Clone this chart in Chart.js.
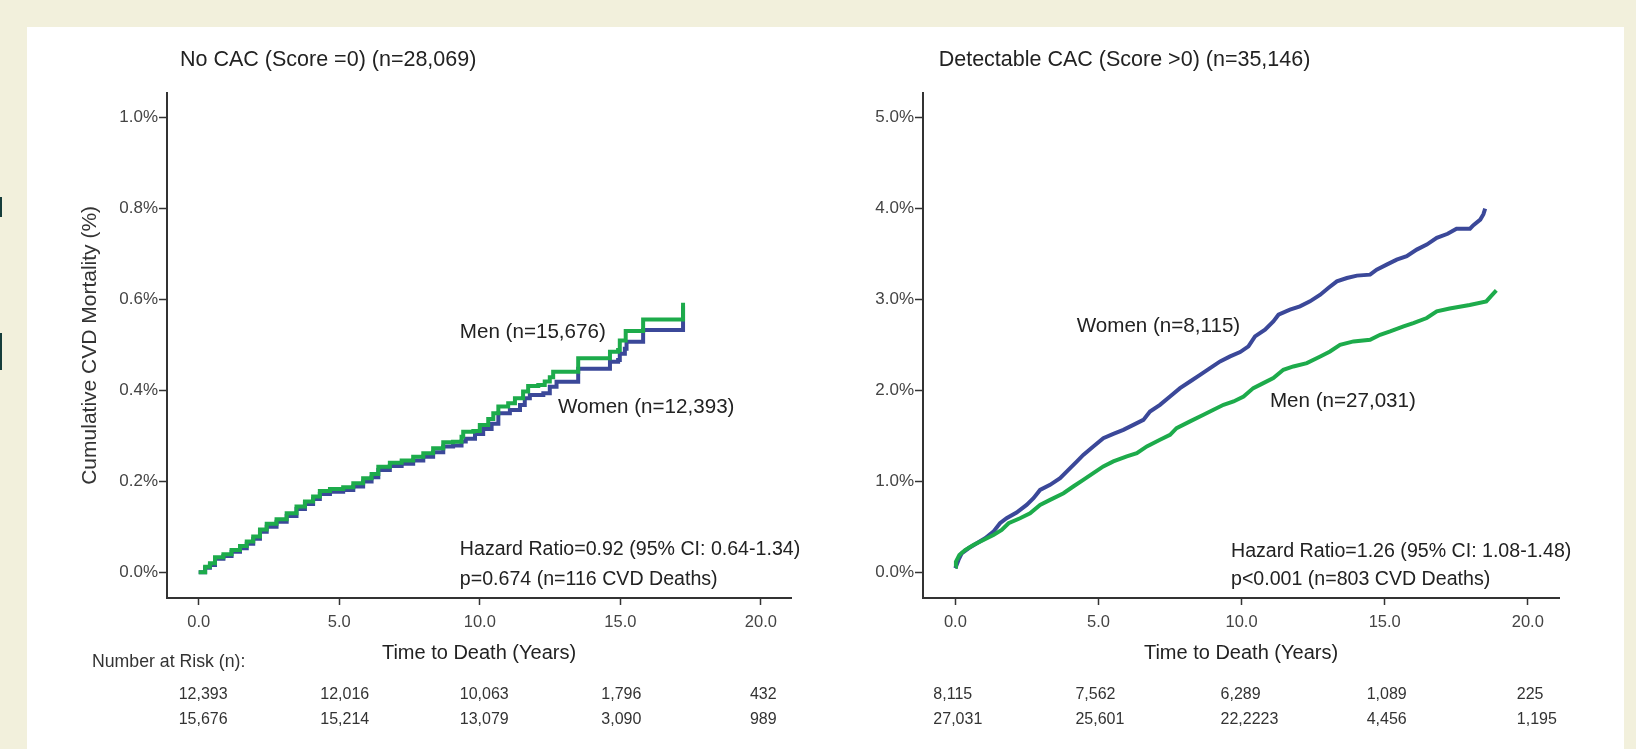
<!DOCTYPE html>
<html>
<head>
<meta charset="utf-8">
<script src="https://cdn.jsdelivr.net/npm/chart.js@4.4.1/dist/chart.umd.min.js"></script>
<style>
  html, body { margin: 0; padding: 0; }
  body { width: 1636px; height: 749px; background: #f2f0dc; position: relative; overflow: hidden; }
  #panel { position: absolute; left: 27px; top: 27px; width: 1597px; height: 722px; background: #fff; }
  canvas { position: absolute; top: 0; }
  #left-chart { left: 0; }
  #right-chart { left: 818px; }
  .edge { position: absolute; left: 0; width: 2px; background: #163d3b; }
</style>
</head>
<body>
<div id="panel"></div>
<div class="edge" style="top:197px;height:20px"></div>
<div class="edge" style="top:333px;height:37px"></div>
<canvas id="left-chart" width="818" height="749"></canvas>
<canvas id="right-chart" width="818" height="749"></canvas>
<script>
//Fonts and colours
var FONT = '"Liberation Sans", Arial, Helvetica, sans-serif';
var GREEN = '#1dab4b';
var BLUE = '#3b4899';

//Risk table time points and tick values
var riskTimes = [0, 5, 10, 15, 20];
var xTicks = [0, 5, 10, 15, 20];
var yTicksNoCac = [0, 0.2, 0.4, 0.6, 0.8, 1.0];
var yTicksCac = [0, 1, 2, 3, 4, 5];

//No CAC - Men (green)
var menNoCacT = [0, 0.23, 0.40, 0.58, 0.88, 1.17, 1.47, 1.71, 1.94, 2.18, 2.42, 2.77, 3.13, 3.48, 3.78, 4.07, 4.31, 4.67, 5.14, 5.50, 5.85, 6.15, 6.39, 6.80, 7.22, 7.63, 7.99, 8.34, 8.70, 9.05, 9.35, 9.41, 9.77, 10.0, 10.3, 10.48, 10.66, 11.01, 11.25, 11.54, 11.72, 12.08, 12.31, 12.49, 12.61, 13.50, 14.63, 14.92, 14.98, 15.19, 15.81, 17.23];
var menNoCacV = [0, 0.012, 0.020, 0.033, 0.040, 0.049, 0.058, 0.068, 0.079, 0.094, 0.107, 0.117, 0.130, 0.145, 0.156, 0.167, 0.179, 0.183, 0.187, 0.196, 0.207, 0.216, 0.232, 0.241, 0.246, 0.254, 0.262, 0.273, 0.286, 0.287, 0.298, 0.309, 0.311, 0.324, 0.337, 0.350, 0.365, 0.372, 0.383, 0.398, 0.410, 0.412, 0.420, 0.429, 0.441, 0.471, 0.485, 0.489, 0.510, 0.531, 0.556, 0.593];

//No CAC - Women (blue)
var womenNoCacT = [0, 0.23, 0.40, 0.58, 0.88, 1.17, 1.47, 1.71, 1.94, 2.18, 2.42, 2.77, 3.13, 3.48, 3.78, 4.07, 4.31, 4.67, 5.14, 5.50, 5.85, 6.15, 6.39, 6.80, 7.22, 7.63, 7.99, 8.34, 8.70, 9.05, 9.35, 9.50, 9.83, 10.12, 10.42, 10.66, 11.07, 11.43, 11.60, 11.78, 12.26, 12.49, 12.73, 13.50, 14.63, 14.92, 14.98, 15.16, 15.22, 15.81, 17.23];
var womenNoCacV = [0, 0.010, 0.016, 0.030, 0.036, 0.045, 0.053, 0.063, 0.074, 0.089, 0.100, 0.111, 0.124, 0.139, 0.150, 0.161, 0.172, 0.177, 0.181, 0.189, 0.200, 0.209, 0.225, 0.234, 0.239, 0.246, 0.254, 0.264, 0.277, 0.279, 0.288, 0.294, 0.304, 0.315, 0.327, 0.350, 0.357, 0.368, 0.383, 0.390, 0.394, 0.408, 0.419, 0.448, 0.463, 0.467, 0.481, 0.492, 0.507, 0.533, 0.585];

//Detectable CAC - Men (green)
var menCacT = [0, 0.02, 0.14, 0.34, 0.63, 0.98, 1.33, 1.62, 1.86, 2.26, 2.61, 2.96, 3.31, 3.78, 4.12, 4.47, 4.82, 5.17, 5.52, 5.99, 6.34, 6.69, 7.15, 7.50, 7.73, 8.20, 8.67, 9.02, 9.37, 9.72, 10.07, 10.41, 10.76, 11.11, 11.46, 11.81, 12.28, 12.75, 13.09, 13.44, 13.91, 14.49, 14.84, 15.19, 15.66, 16.0, 16.47, 16.82, 17.27, 17.97, 18.55, 18.7, 18.9];
var menCacV = [0.06, 0.117, 0.19, 0.245, 0.30, 0.355, 0.410, 0.465, 0.539, 0.594, 0.649, 0.741, 0.796, 0.869, 0.943, 1.016, 1.089, 1.163, 1.218, 1.273, 1.309, 1.383, 1.456, 1.511, 1.584, 1.658, 1.731, 1.786, 1.841, 1.877, 1.932, 2.024, 2.079, 2.134, 2.225, 2.262, 2.299, 2.372, 2.427, 2.500, 2.537, 2.555, 2.610, 2.647, 2.702, 2.739, 2.794, 2.867, 2.898, 2.938, 2.977, 3.03, 3.097];

//Detectable CAC - Women (blue)
var womenCacT = [0, 0.11, 0.22, 0.46, 0.75, 1.04, 1.33, 1.56, 1.79, 2.14, 2.49, 2.73, 2.96, 3.31, 3.66, 3.95, 4.24, 4.47, 4.82, 5.17, 5.52, 5.87, 6.22, 6.57, 6.80, 7.15, 7.50, 7.85, 8.20, 8.55, 8.90, 9.25, 9.60, 9.95, 10.24, 10.47, 10.82, 11.11, 11.29, 11.69, 12.04, 12.39, 12.75, 13.03, 13.33, 13.68, 14.03, 14.49, 14.72, 15.07, 15.42, 15.77, 16.12, 16.47, 16.82, 17.2, 17.51, 17.98, 18.1, 18.34, 18.45, 18.51];
var womenCacV = [0.044, 0.135, 0.209, 0.264, 0.319, 0.374, 0.447, 0.539, 0.594, 0.657, 0.741, 0.815, 0.905, 0.961, 1.034, 1.126, 1.217, 1.290, 1.382, 1.474, 1.521, 1.565, 1.620, 1.675, 1.767, 1.840, 1.932, 2.024, 2.097, 2.170, 2.244, 2.317, 2.372, 2.420, 2.482, 2.592, 2.666, 2.757, 2.831, 2.886, 2.922, 2.977, 3.050, 3.124, 3.197, 3.234, 3.260, 3.271, 3.326, 3.381, 3.436, 3.473, 3.546, 3.601, 3.675, 3.72, 3.776, 3.776, 3.815, 3.876, 3.935, 3.996];

//Number at risk (first row women, second row men)
var riskWomenNoCac = ['12,393', '12,016', '10,063', '1,796', '432'];
var riskMenNoCac = ['15,676', '15,214', '13,079', '3,090', '989'];
var riskWomenCac = ['8,115', '7,562', '6,289', '1,089', '225'];
var riskMenCac = ['27,031', '25,601', '22,2223', '4,456', '1,195'];

Chart.defaults.font.family = FONT;

function toPoints(ts, vs) {
  return ts.map(function(t, i) { return {x: t, y: vs[i]}; });
}

//Draws titles, curve labels, hazard ratio text and the risk table
var panelText = {
  id: 'panelText',
  afterDraw: function(chart, args, opts) {
    var ctx = chart.ctx;
    var xs = chart.scales.x;
    var ys = chart.scales.y;
    ctx.save();
    ctx.textBaseline = 'middle';
    ctx.textAlign = 'left';

    ctx.fillStyle = '#222';
    ctx.font = '21.5px ' + FONT;
    ctx.fillText(opts.title, opts.titleX, 60);

    opts.notes.forEach(function(n) {
      ctx.font = n.size + 'px ' + FONT;
      ctx.fillStyle = '#222';
      ctx.fillText(n.text, xs.getPixelForValue(n.t), ys.getPixelForValue(n.v));
    });

    if (opts.riskLabel) {
      ctx.font = '17.7px ' + FONT;
      ctx.fillStyle = '#333';
      ctx.fillText(opts.riskLabel, 92, 662);
    }

    ctx.font = '16px ' + FONT;
    ctx.fillStyle = '#333';
    riskTimes.forEach(function(t, i) {
      var x = xs.getPixelForValue(t) + opts.riskShift[i];
      ctx.fillText(opts.riskRows[0][i], x, 695);
      ctx.fillText(opts.riskRows[1][i], x, 720);
    });
    ctx.restore();
  }
};

function makeScales(yMin, yMax, yTicks, yWidth, yTitle, xMin, xMax) {
  return {
    x: {
      type: 'linear',
      min: xMin,
      max: xMax,
      afterBuildTicks: function(axis) {
        axis.ticks = xTicks.map(function(v) { return {value: v}; });
      },
      afterFit: function(axis) { axis.height = 151; },
      ticks: {
        autoSkip: false,
        maxRotation: 0,
        padding: 7.2,
        color: '#444',
        font: {size: 16.5},
        callback: function(value) { return Number(value).toFixed(1); }
      },
      grid: {display: true, drawOnChartArea: false, drawTicks: true, tickLength: 7, tickColor: '#333', tickWidth: 1.5},
      border: {display: true, color: '#333', width: 2},
      title: {
        display: true,
        text: 'Time to Death (Years)',
        color: '#222',
        font: {size: 20},
        padding: {top: 0, bottom: 84}
      }
    },
    y: {
      type: 'linear',
      min: yMin,
      max: yMax,
      afterBuildTicks: function(axis) {
        axis.ticks = yTicks.map(function(v) { return {value: v}; });
      },
      afterFit: function(axis) { axis.width = yWidth; },
      ticks: {
        padding: 1,
        color: '#444',
        font: {size: 17},
        callback: function(value) { return Number(value).toFixed(1) + '%'; }
      },
      grid: {display: true, drawOnChartArea: false, drawTicks: true, tickLength: 8, tickColor: '#333', tickWidth: 1.5},
      border: {display: true, color: '#333', width: 2},
      title: {
        display: !!yTitle,
        text: yTitle || '',
        color: '#333',
        font: {size: 21},
        padding: {top: 77.4, bottom: 0}
      }
    }
  };
}

function makeDatasets(menT, menV, womenT, womenV, stepped) {
  //men first so the green line is drawn on top
  return [{
    label: 'Men',
    data: toPoints(menT, menV),
    borderColor: GREEN,
    borderWidth: 4,
    pointRadius: 0,
    tension: 0,
    stepped: stepped,
    fill: false
  }, {
    label: 'Women',
    data: toPoints(womenT, womenV),
    borderColor: BLUE,
    borderWidth: 4,
    pointRadius: 0,
    tension: 0,
    stepped: stepped,
    fill: false
  }];
}

//LEFT CHART - No CAC
var leftChart = new Chart(document.getElementById('left-chart'), {
  type: 'line',
  data: {datasets: makeDatasets(menNoCacT, menNoCacV, womenNoCacT, womenNoCacV, 'before')},
  options: {
    responsive: false,
    animation: false,
    devicePixelRatio: 1,
    events: [],
    layout: {padding: {top: 92.7, right: 27, bottom: 0, left: 0}},
    scales: makeScales(-0.0565, 1.055, yTicksNoCac, 167, 'Cumulative CVD Mortality (%)', -1.127, 21.07),
    plugins: {
      legend: {display: false},
      tooltip: {enabled: false},
      panelText: {
        title: 'No CAC (Score =0) (n=28,069)',
        titleX: 180,
        notes: [
          {text: 'Men (n=15,676)', t: 9.29, v: 0.529, size: 20.6},
          {text: 'Women (n=12,393)', t: 12.78, v: 0.364, size: 20.6},
          {text: 'Hazard Ratio=0.92 (95% CI: 0.64-1.34)', t: 9.29, v: 0.049, size: 19.6},
          {text: 'p=0.674 (n=116 CVD Deaths)', t: 9.29, v: -0.017, size: 19.6}
        ],
        riskLabel: 'Number at Risk (n):',
        riskRows: [riskWomenNoCac, riskMenNoCac],
        riskShift: [-20, -19, -20, -19, -11]
      }
    }
  },
  plugins: [panelText]
});

//RIGHT CHART - Detectable CAC
var rightChart = new Chart(document.getElementById('right-chart'), {
  type: 'line',
  data: {datasets: makeDatasets(menCacT, menCacV, womenCacT, womenCacV, false)},
  options: {
    responsive: false,
    animation: false,
    devicePixelRatio: 1,
    events: [],
    layout: {padding: {top: 92.7, right: 77, bottom: 0, left: 0}},
    scales: makeScales(-0.2824, 5.27, yTicksCac, 105, null, -1.13, 21.09),
    plugins: {
      legend: {display: false},
      tooltip: {enabled: false},
      panelText: {
        title: 'Detectable CAC (Score >0) (n=35,146)',
        titleX: 120.7,
        notes: [
          {text: 'Women (n=8,115)', t: 4.24, v: 2.701, size: 20.6},
          {text: 'Men (n=27,031)', t: 10.99, v: 1.876, size: 20.6},
          {text: 'Hazard Ratio=1.26 (95% CI: 1.08-1.48)', t: 9.63, v: 0.227, size: 19.6},
          {text: 'p<0.001 (n=803 CVD Deaths)', t: 9.63, v: -0.085, size: 19.6}
        ],
        riskLabel: null,
        riskRows: [riskWomenCac, riskMenCac],
        riskShift: [-22, -23, -21, -18, -11]
      }
    }
  },
  plugins: [panelText]
});
</script>
</body>
</html>
